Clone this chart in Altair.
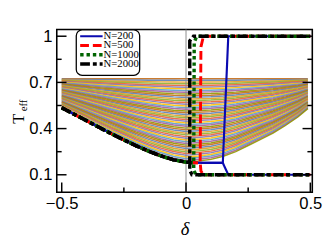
import altair as alt
import pandas as pd

# ---------------- axes ----------------
x_domain = [-0.52, 0.508]
y_domain = [-0.014, 1.044]
x_major = [-0.5, 0.0, 0.5]
x_minor = [-0.25, 0.25]
y_major = [0.1, 0.4, 0.7, 1.0]
y_minor = [0.25, 0.55, 0.85]

# ---------------- fan of curves ----------------
fan_top = 0.724
left_x = [-0.5, -0.45, -0.4, -0.35, -0.3, -0.25, -0.2, -0.15, -0.1, -0.05, 0.0]
left_y = [0.535, 0.493, 0.451, 0.408, 0.366, 0.326, 0.288, 0.253, 0.222, 0.197, 0.182]
right_x = [0.05, 0.1, 0.15, 0.2, 0.25, 0.3, 0.35, 0.4, 0.45, 0.49]
right_y = [0.19, 0.2, 0.22, 0.25, 0.29, 0.33, 0.37, 0.42, 0.475, 0.53]
fan_levels = [0.0, 0.02, 0.041, 0.061, 0.082, 0.102, 0.122, 0.143, 0.163, 0.184,
              0.204, 0.224, 0.245, 0.265, 0.286, 0.306, 0.327, 0.347, 0.367, 0.388,
              0.408, 0.429, 0.449, 0.469, 0.49, 0.51, 0.531, 0.551, 0.571, 0.592,
              0.612, 0.633, 0.653, 0.673, 0.694, 0.714, 0.735, 0.755, 0.776, 0.796,
              0.816, 0.837, 0.857, 0.878, 0.898, 0.918, 0.939, 0.959, 0.98, 1.0]
fan_palette = ["#C56E1A", "#5E81B5", "#E19C24", "#8FB032", "#EB6235",
               "#8778B3", "#FFBF00", "#5D9EC7", "#A5609D", "#929600"]

# ---------------- N series ----------------
series_names = ["N=200", "N=500", "N=1000", "N=2000"]
series_colors = ["#0a0ab0", "#ff0000", "#006400", "#000000"]
series_widths = [2.2, 3.0, 3.5, 3.5]
series_dashes = [[1, 0], [9, 4], [3.5, 3], [10, 3, 4, 3]]
mid_x = [[0.05, 0.1, 0.148], [0.03, 0.057], [0.031], [0.015]]
mid_y = [[0.178, 0.177, 0.177], [0.178, 0.177], [0.178], [0.18]]
up_x = [[0.17, 0.5], [0.06, 0.07, 0.5], [0.033, 0.043, 0.5], [0.015, 0.03, 0.5]]
up_y = [[1.0, 1.0], [0.93, 1.0, 1.0], [0.96, 1.0, 1.0], [0.97, 1.0, 1.0]]
dn_x = [[0.17, 0.5], [0.06, 0.07, 0.5], [0.031, 0.04, 0.5], [0.015, 0.024, 0.5]]
dn_y = [[0.1, 0.1], [0.125, 0.1, 0.1], [0.13, 0.1, 0.1], [0.13, 0.1, 0.1]]

# ---------------- tables ----------------
env_x = left_x + right_x
env_y = left_y + right_y
fan_rows = []
for i, f in enumerate(fan_levels):
    for o, (ex, ey) in enumerate(zip(env_x, env_y)):
        fan_rows.append({"line": i, "c": f"c{i % len(fan_palette)}", "o": o,
                         "x": ex, "y": fan_top - f * (fan_top - ey)})
fan_df = pd.DataFrame(fan_rows)

W, H = 262, 167
xs = alt.Scale(domain=x_domain, nice=False, zero=False)
ys = alt.Scale(domain=y_domain, nice=False, zero=False)

x_axis = alt.Axis(values=x_major, format="~g", ticks=False, tickSize=0, domain=False, grid=False,
                  labelFontSize=17, labelFont="Liberation Sans", labelColor="black",
                  labelPadding=4, labelFlush=False, labelOverlap=False,
                  title="δ", titleFont="Liberation Serif", titleFontStyle="italic",
                  titleFontWeight="normal", titleFontSize=19, titleColor="black", titlePadding=8)
y_axis = alt.Axis(values=y_major, format="~g", ticks=False, tickSize=0, domain=False, grid=False,
                  labelFontSize=17, labelFont="Liberation Sans", labelColor="black",
                  labelPadding=5, labelFlush=False, labelOverlap=False, title="")

X = lambda f: alt.X(f, scale=xs, axis=x_axis)
Y = lambda f: alt.Y(f, scale=ys, axis=y_axis)

layers = []
layers.append(
    alt.Chart(fan_df).mark_line(strokeWidth=1.5, opacity=0.9, clip=True).encode(
        x=X("x:Q"), y=Y("y:Q"),
        color=alt.Color("c:N", scale=alt.Scale(domain=[f"c{k}" for k in range(len(fan_palette))],
                                               range=fan_palette), legend=None),
        detail="line:N",
        order="o:Q",
    )
)

layers.append(
    alt.Chart(pd.DataFrame({"x": [0.0]})).mark_rule(color="#8c8c8c", strokeWidth=1).encode(
        x=X("x:Q"))
)

for k, name in enumerate(series_names):
    rows = []
    for branch, bx, by in (("up", up_x[k], up_y[k]), ("dn", dn_x[k], dn_y[k])):
        px = left_x + mid_x[k] + bx
        py = left_y + mid_y[k] + by
        for o, (a, b) in enumerate(zip(px, py)):
            rows.append({"branch": branch, "o": o, "x": a, "y": b})
    layers.append(
        alt.Chart(pd.DataFrame(rows)).mark_line(
            color=series_colors[k], strokeWidth=series_widths[k],
            strokeDash=series_dashes[k], clip=True).encode(
            x=X("x:Q"), y=Y("y:Q"),
            detail="branch:N",
            order="o:Q",
        )
    )

# inward frame ticks
def yticks(vals, x0, x1):
    return alt.Chart(pd.DataFrame({"v": vals})).mark_rule(color="black", strokeWidth=1.5).encode(
        y=Y("v:Q"), x=alt.value(x0), x2=alt.value(x1))

def xticks(vals, y0, y1):
    return alt.Chart(pd.DataFrame({"v": vals})).mark_rule(color="black", strokeWidth=1.5).encode(
        x=X("v:Q"), y=alt.value(y0), y2=alt.value(y1))

layers += [yticks(y_major, 0, 10), yticks(y_minor, 0, 5),
           yticks(y_major, W, W - 10), yticks(y_minor, W, W - 5),
           xticks(x_major, H, H - 10), xticks(x_minor, H, H - 5)]

# legend
one = pd.DataFrame({"a": [0]})
layers.append(
    alt.Chart(one).mark_rect(fill="white", stroke="black", strokeWidth=1.3, cornerRadius=6).encode(
        x=alt.value(20), x2=alt.value(85), y=alt.value(0.5), y2=alt.value(47))
)
legend_rows = [7, 16.5, 26, 35.5]
for k, name in enumerate(series_names):
    layers.append(
        alt.Chart(one).mark_rule(color=series_colors[k], strokeWidth=series_widths[k],
                                 strokeDash=series_dashes[k]).encode(
            x=alt.value(24), x2=alt.value(47), y=alt.value(legend_rows[k]))
    )
    layers.append(
        alt.Chart(one).mark_text(align="left", baseline="middle", font="Liberation Serif",
                                 fontSize=11, color="black").encode(
            x=alt.value(48), y=alt.value(legend_rows[k]), text=alt.value(name))
    )

# y title T_eff
layers.append(
    alt.Chart(one).mark_text(angle=270, align="center", baseline="alphabetic",
                             font="Liberation Serif", fontSize=17, color="black").encode(
        x=alt.value(-34), y=alt.value(91.5), text=alt.value("T"))
)
layers.append(
    alt.Chart(one).mark_text(angle=270, align="center", baseline="alphabetic",
                             font="Liberation Serif", fontSize=11, color="black").encode(
        x=alt.value(-31), y=alt.value(78), text=alt.value("eff"))
)

chart = alt.layer(*layers).properties(
    width=W, height=H,
    padding={"left": 50, "top": 19, "right": 12, "bottom": 50},
    autosize=alt.AutoSizeParams(type="none"),
).configure_view(stroke="black", strokeWidth=1.6)

chart.save("out.html", embed_options={"renderer": "svg", "actions": False})
